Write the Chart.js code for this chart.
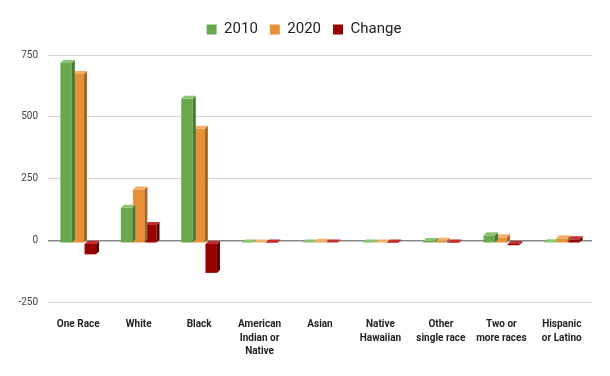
<!DOCTYPE html>
<html>
<head>
<meta charset="utf-8">
<script src="https://cdn.jsdelivr.net/npm/chart.js@4/dist/chart.umd.min.js"></script>
<style>
  html, body { margin: 0; padding: 0; background: #ffffff; }
  #wrap { width: 610px; height: 376px; }
</style>
</head>
<body>
<div id="wrap"><canvas id="c" width="610" height="376"></canvas></div>
<script>
const categories = [
  "One Race",
  "White",
  "Black",
  ["American", "Indian or", "Native"],
  "Asian",
  ["Native", "Hawaiian"],
  ["Other", "single race"],
  ["Two or", "more races"],
  ["Hispanic", "or Latino"]
];
const values2010 = [730, 144, 585, 2, 3, 2, 9, 32, 4];
const values2020 = [685, 218, 464, 3, 6, 3, 10, 24, 20];
const valuesChange = [-45, 74, -120, 1, 3, 1, 1, -8, 16];
const yTicks = [-250, 0, 250, 500, 750];

const faceColors = [
  { front: "#6aa84f", side: "#497a35", top: "#8cc471" },
  { front: "#e69138", side: "#a8651f", top: "#f2b06a" },
  { front: "#990000", side: "#5e0000", top: "#c23030" }
];

const depth = 3;
const bar3d = {
  id: "bar3d",
  beforeDatasetDraw(chart) {
    chart.ctx.save();
    chart.ctx.translate(0, depth);
  },
  afterDatasetDraw(chart, args) {
    const meta = args.meta;
    const cols = faceColors[args.index];
    const ctx = chart.ctx;
    meta.data.forEach(el => {
      const p = el.getProps(["x", "y", "base", "width"], true);
      const l = p.x - p.width / 2, r = p.x + p.width / 2;
      const t = Math.min(p.y, p.base), b = Math.max(p.y, p.base);
      ctx.fillStyle = cols.side;
      ctx.beginPath();
      ctx.moveTo(r, t); ctx.lineTo(r + depth, t - depth);
      ctx.lineTo(r + depth, b - depth); ctx.lineTo(r, b);
      ctx.closePath(); ctx.fill();
      ctx.fillStyle = cols.top;
      ctx.beginPath();
      ctx.moveTo(l, t); ctx.lineTo(l + depth, t - depth);
      ctx.lineTo(r + depth, t - depth); ctx.lineTo(r, t);
      ctx.closePath(); ctx.fill();
    });
    ctx.restore();
  }
};

const legendSpace = {
  id: "legendSpace",
  afterInit(chart) {
    const lg = chart.legend;
    if (!lg) return;
    const orig = lg.fit;
    lg.fit = function () { orig.call(this); this.height += 8; };
  }
};

new Chart(document.getElementById("c"), {
  type: "bar",
  data: {
    labels: categories,
    datasets: [
      { label: "2010", data: values2010, backgroundColor: faceColors[0].front },
      { label: "2020", data: values2020, backgroundColor: faceColors[1].front },
      { label: "Change", data: valuesChange, backgroundColor: faceColors[2].front }
    ]
  },
  options: {
    responsive: false,
    animation: false,
    layout: { padding: { top: 10, right: 18, left: 16, bottom: 0 } },
    datasets: { bar: { categoryPercentage: 0.6, barPercentage: 0.95 } },
    plugins: {
      legend: {
        position: "top",
        labels: {
          boxWidth: 10, boxHeight: 10, padding: 12,
          color: "#222222",
          font: { family: "Roboto", size: 15 }
        }
      },
      tooltip: { enabled: false }
    },
    scales: {
      x: {
        grid: { display: false },
        border: { display: false },
        ticks: {
          color: "#222222",
          maxRotation: 0, autoSkip: false, padding: 8,
          font: { family: "Roboto", size: 10, weight: "bold", lineHeight: 1.35 }
        },
        afterFit(scale) { scale.height = 74; }
      },
      y: {
        min: -250, max: 750,
        afterBuildTicks(scale) { scale.ticks = yTicks.map(v => ({ value: v })); },
        border: { display: false },
        grid: {
          color: ctx => (ctx.tick && ctx.tick.value === 0) ? "#888888" : "#d6d6d6",
          lineWidth: ctx => (ctx.tick && ctx.tick.value === 0) ? 1.5 : 1,
          drawTicks: false
        },
        ticks: {
          color: "#444444", padding: 10,
          font: { family: "Roboto", size: 10 }
        },
        afterFit(scale) { scale.width = 32; }
      }
    }
  },
  plugins: [bar3d, legendSpace]
});
</script>
</body>
</html>
